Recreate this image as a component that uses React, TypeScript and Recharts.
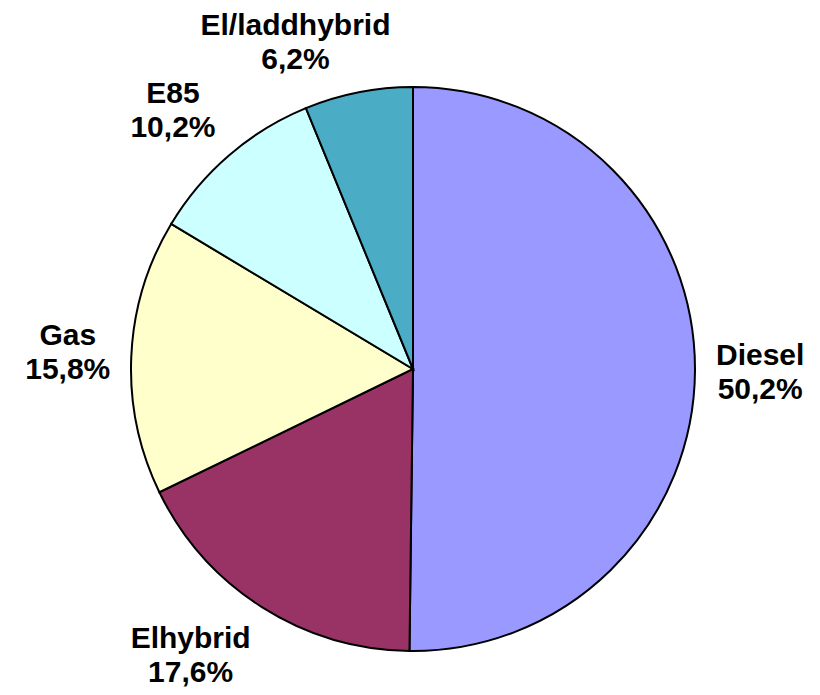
import { PieChart, Pie, Cell } from "recharts";

const categories = ["Diesel", "Elhybrid", "Gas", "E85", "El/laddhybrid"];
const shares = [50.2, 17.6, 15.8, 10.2, 6.2];
const colors = ["#9999FF", "#993366", "#FFFFCC", "#CCFFFF", "#4BACC6"];

const data = categories.map((name, i) => ({ name, value: shares[i] }));

const FONT = "bold 30px 'Liberation Sans', Arial, sans-serif";
const LINE = 34;

let ctx: CanvasRenderingContext2D | null = null;
const measure = (text: string) => {
  if (!ctx) ctx = document.createElement("canvas").getContext("2d");
  if (!ctx) return text.length * 16;
  ctx.font = FONT;
  return ctx.measureText(text).width;
};

const clamp = (v: number) => Math.max(-1, Math.min(1, v));

const renderLabel = (props: any) => {
  const { cx, cy, midAngle, outerRadius, name, value } = props;
  const rad = (midAngle * Math.PI) / 180;
  const dx = Math.cos(rad);
  const dy = -Math.sin(rad);
  const r = outerRadius + 21;
  const pct = `${value.toFixed(1).replace(".", ",")}%`;
  const w = Math.max(measure(name), measure(pct));
  const h = 60;
  // push the text box outward from the anchor point
  const x = cx + r * dx + (w / 2) * clamp(3.2 * dx);
  const y = cy + r * dy + (h / 2) * clamp(3.2 * dy);
  return (
    <text
      x={x}
      y={y}
      textAnchor="middle"
      fill="#000"
      style={{ font: FONT }}
    >
      <tspan x={x} y={y - LINE / 2} dominantBaseline="central">
        {name}
      </tspan>
      <tspan x={x} y={y + LINE / 2} dominantBaseline="central">
        {pct}
      </tspan>
    </text>
  );
};

export default function App() {
  return (
    <div
      style={{
        position: "absolute",
        left: 0,
        top: 0,
        width: 820,
        height: 695,
        background: "#fff",
      }}
    >
      <PieChart
        width={820}
        height={695}
        margin={{ top: 0, right: 0, bottom: 0, left: 0 }}
      >
        <Pie
          data={data}
          dataKey="value"
          nameKey="name"
          cx={413}
          cy={369}
          outerRadius={282}
          startAngle={90}
          endAngle={-270}
          stroke="#000"
          strokeWidth={2}
          label={renderLabel}
          labelLine={false}
          isAnimationActive={false}
        >
          {data.map((d, i) => (
            <Cell key={d.name} fill={colors[i]} />
          ))}
        </Pie>
      </PieChart>
    </div>
  );
}
